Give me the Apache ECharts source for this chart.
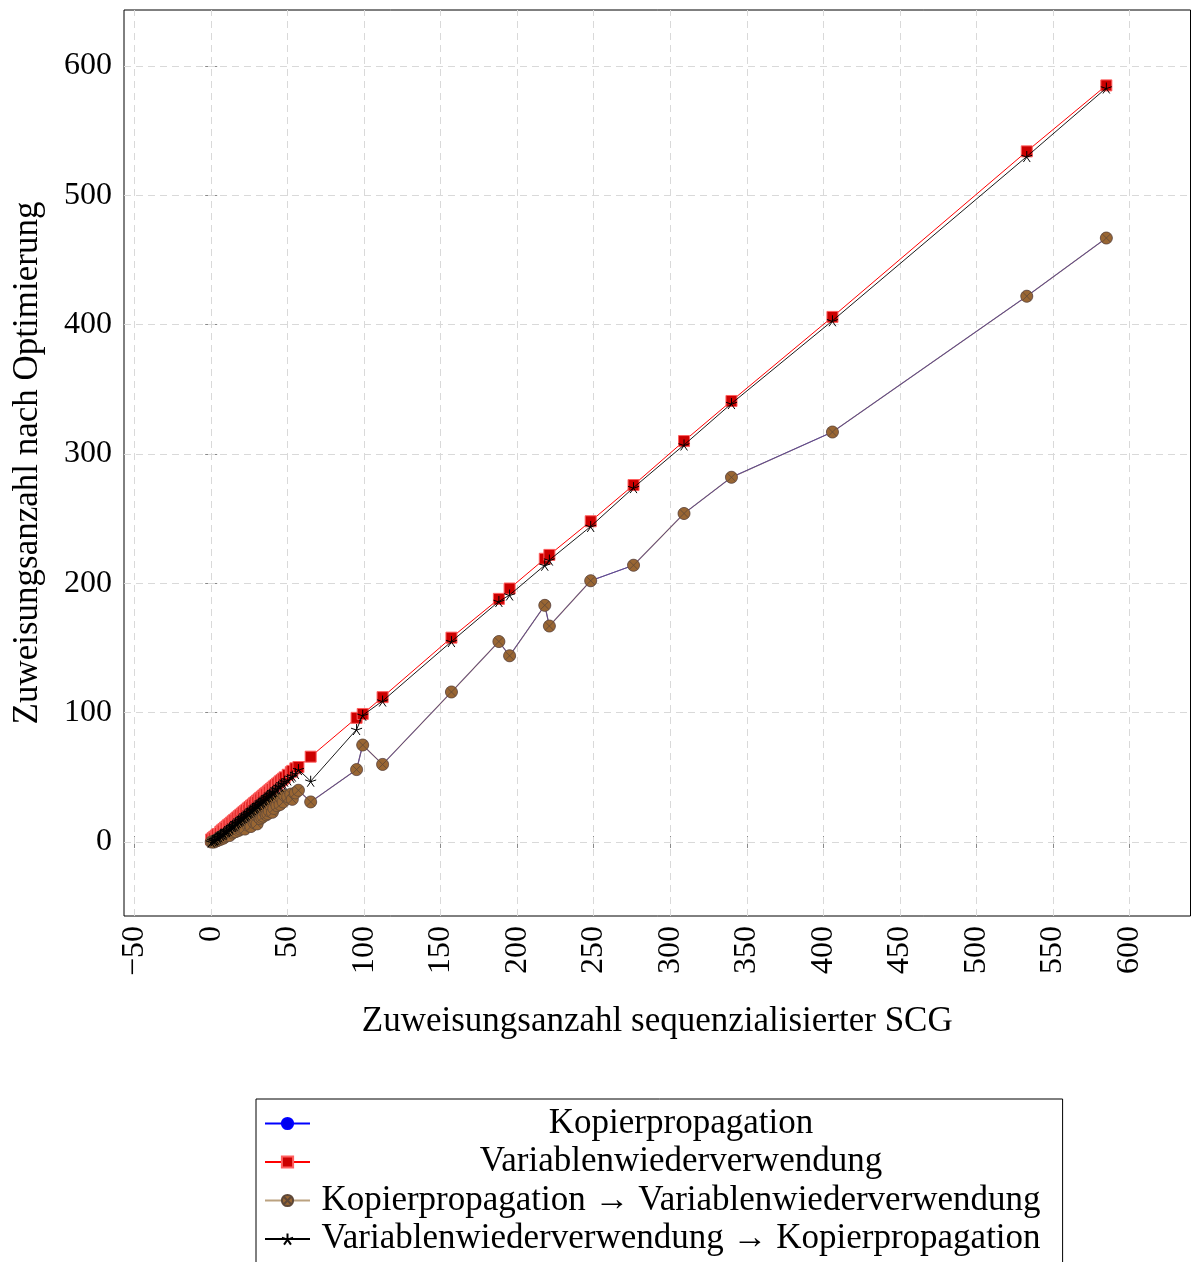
<!DOCTYPE html>
<html>
<head>
<meta charset="utf-8">
<script src="https://cdn.jsdelivr.net/npm/echarts@6/dist/echarts.min.js"></script>
<style>
html,body{margin:0;padding:0;background:#fff;overflow:hidden;}
#chart{width:1192px;height:1320px;}
</style>
</head>
<body>
<div id="chart"></div>
<script>
// x: Zuweisungsanzahl sequenzialisierter SCG
const xValues = [0,1,2,2,3,4,4,5,6,6,7,8,8,9,10,10,11,12,12,13,14,14,15,16,16,17,18,18,19,20,20,21,22,22,23,24,24,25,26,26,27,28,28,29,30,30,31,32,32,33,34,34,35,36,36,37,38,38,39,40,40,41,42,43,44,45,46,47,48,50,52,53,55,57,65,95,99,112,157,188,195,218,221,248,276,309,340,406,533,585];
// Variablenwiederverwendung
const varValues = [2,3,4,3,5,5,6,6,8,7,9,10,9,11,12,11,13,14,13,15,16,15,17,18,17,19,20,19,21,22,21,23,24,23,25,26,25,27,28,27,29,30,29,31,32,31,33,34,33,35,36,35,37,38,37,39,40,39,41,42,41,43,44,45,46,47,48,49,50,52,54,55,57,58,66,96,99,112,158,188,196,219,222,248,276,310,341,406,534,585];
// Variablenwiederverwendung -> Kopierpropagation
const varKopValues = [0,1,1,2,2,3,4,4,5,6,6,7,6,8,9,8,9,11,10,12,12,13,13,15,14,15,17,16,17,19,18,19,21,20,21,22,23,23,25,24,25,27,26,27,29,28,29,31,30,31,33,32,33,35,34,35,37,36,37,39,38,39,41,41,43,43,45,45,47,48,50,51,53,56,47,87,98,109,155,186,191,214,218,244,274,307,339,403,530,583];
// Kopierpropagation -> Variablenwiederverwendung
const kopVarValues = [0,0,1,0,1,2,1,3,2,4,3,5,3,4,6,5,6,7,5,8,7,9,8,10,8,11,9,12,10,13,11,12,14,10,15,13,16,14,17,12,18,15,19,16,20,14,21,18,22,19,24,20,23,21,26,22,27,24,28,23,30,26,31,28,33,29,34,31,36,35,37,33,38,40,31,56,75,60,116,155,144,183,167,202,214,254,282,317,422,467];
// Kopierpropagation (identisch, liegt unter der vorherigen Reihe)
const kopValues = kopVarValues.slice();

const seriesNames = ['Kopierpropagation','Variablenwiederverwendung','Kopierpropagation \u2192 Variablenwiederverwendung','Variablenwiederverwendung \u2192 Kopierpropagation'];

// tick positions
const xTicks = [-50,0,50,100,150,200,250,300,350,400,450,500,550,600];
const yTicks = [0,100,200,300,400,500,600];

const pairs = ys => xValues.map((x, i) => [x, ys[i]]);
const FONT = 'Liberation Serif';
const fmt = v => (v < 0 ? '\u2212' + (-v) : String(v));

const circleX = 'path://M0,10C0,4.477 4.477,0 10,0C15.523,0 20,4.477 20,10C20,15.523 15.523,20 10,20C4.477,20 0,15.523 0,10ZM2.93,2.93L17.07,17.07M17.07,2.93L2.93,17.07';
const star = 'path://M10,0L10,10M19.51,6.91L10,10M0.49,6.91L10,10M4.12,18.09L10,10M15.88,18.09L10,10';

function tickStyle(vals) {
  return {show: true, inside: true, length: 6, customValues: vals, lineStyle: {color: '#8a8a8a', width: 1}};
}

function xAx(pos, main) {
  return {
    type: 'value', position: pos, min: -57, max: 640,
    axisLine: {show: false}, axisTick: tickStyle(xTicks),
    axisLabel: {show: main, customValues: xTicks, rotate: 90, margin: 10, fontSize: 32, fontFamily: FONT, color: '#000', formatter: fmt},
    splitLine: {show: false},
    name: main ? 'Zuweisungsanzahl sequenzialisierter SCG' : '',
    nameLocation: 'middle', nameGap: 88,
    nameTextStyle: {fontSize: 35, fontFamily: FONT, color: '#000'}
  };
}
function yAx(pos, main) {
  return {
    type: 'value', position: pos, min: -57.2, max: 643.3,
    axisLine: {show: false}, axisTick: tickStyle(yTicks),
    axisLabel: {show: main, customValues: yTicks, margin: 12, fontSize: 32, fontFamily: FONT, color: '#000', formatter: fmt},
    splitLine: {show: false},
    name: main ? 'Zuweisungsanzahl nach Optimierung' : '',
    nameLocation: 'middle', nameGap: 79,
    nameTextStyle: {fontSize: 35, fontFamily: FONT, color: '#000'}
  };
}

const gridLineStyle = {color: '#d9d9d9', width: 1, type: [7, 5]};

const chart = echarts.init(document.getElementById('chart'), null, {renderer: 'canvas'});
chart.setOption({
  animation: false,
  backgroundColor: '#fff',
  grid: {left: 124, right: 1.5, top: 10, bottom: 1320 - 916, show: true, borderColor: '#000', borderWidth: 1, backgroundColor: 'transparent'},
  xAxis: [xAx('bottom', true), xAx('top', false)],
  yAxis: [yAx('left', true), yAx('right', false)],
  legend: {
    orient: 'vertical', left: 256, top: 1099,
    backgroundColor: '#fff', borderColor: '#000', borderWidth: 1,
    padding: [7, 22, 10, 8], itemGap: 3.5, itemWidth: 45, itemHeight: 14,
    data: seriesNames,
    formatter: n => '{t|' + n + '}',
    textStyle: {fontSize: 35, fontFamily: FONT, color: '#000',
      rich: {t: {width: 732, align: 'center', fontSize: 35, fontFamily: FONT, color: '#000'}}}
  },
  series: [
    {name: 'grid', type: 'line', data: [], z: 1, silent: true,
     markLine: {z: 1, silent: true, symbol: ['none', 'none'], label: {show: false}, lineStyle: gridLineStyle,
       emphasis: {disabled: true},
       data: xTicks.map(v => ({xAxis: v})).concat(yTicks.map(v => ({yAxis: v})))}},
    {name: seriesNames[0], type: 'line', data: pairs(kopValues), symbol: 'circle', symbolSize: 11,
     lineStyle: {color: '#0000ff', width: 1}, itemStyle: {color: '#0000ee', borderColor: '#0000ff', borderWidth: 0.5}, z: 2},
    {name: seriesNames[1], type: 'line', data: pairs(varValues), symbol: 'rect', symbolSize: 11,
     lineStyle: {color: '#ff0000', width: 1}, itemStyle: {color: '#cc0000', borderColor: '#ff6060', borderWidth: 1}, z: 3},
    {name: seriesNames[2], type: 'line', data: pairs(kopVarValues), symbol: circleX, symbolSize: 12,
     lineStyle: {color: 'rgb(150,112,60)', opacity: 0.65, width: 1.3}, itemStyle: {color: '#996633', borderColor: '#5e4838', borderWidth: 0.8}, z: 4},
    {name: seriesNames[3], type: 'line', data: pairs(varKopValues), symbol: star, symbolSize: 11,
     lineStyle: {color: '#000', width: 0.9}, itemStyle: {color: '#000', borderColor: '#000', borderWidth: 1}, z: 5}
  ]
});
</script>
</body>
</html>
